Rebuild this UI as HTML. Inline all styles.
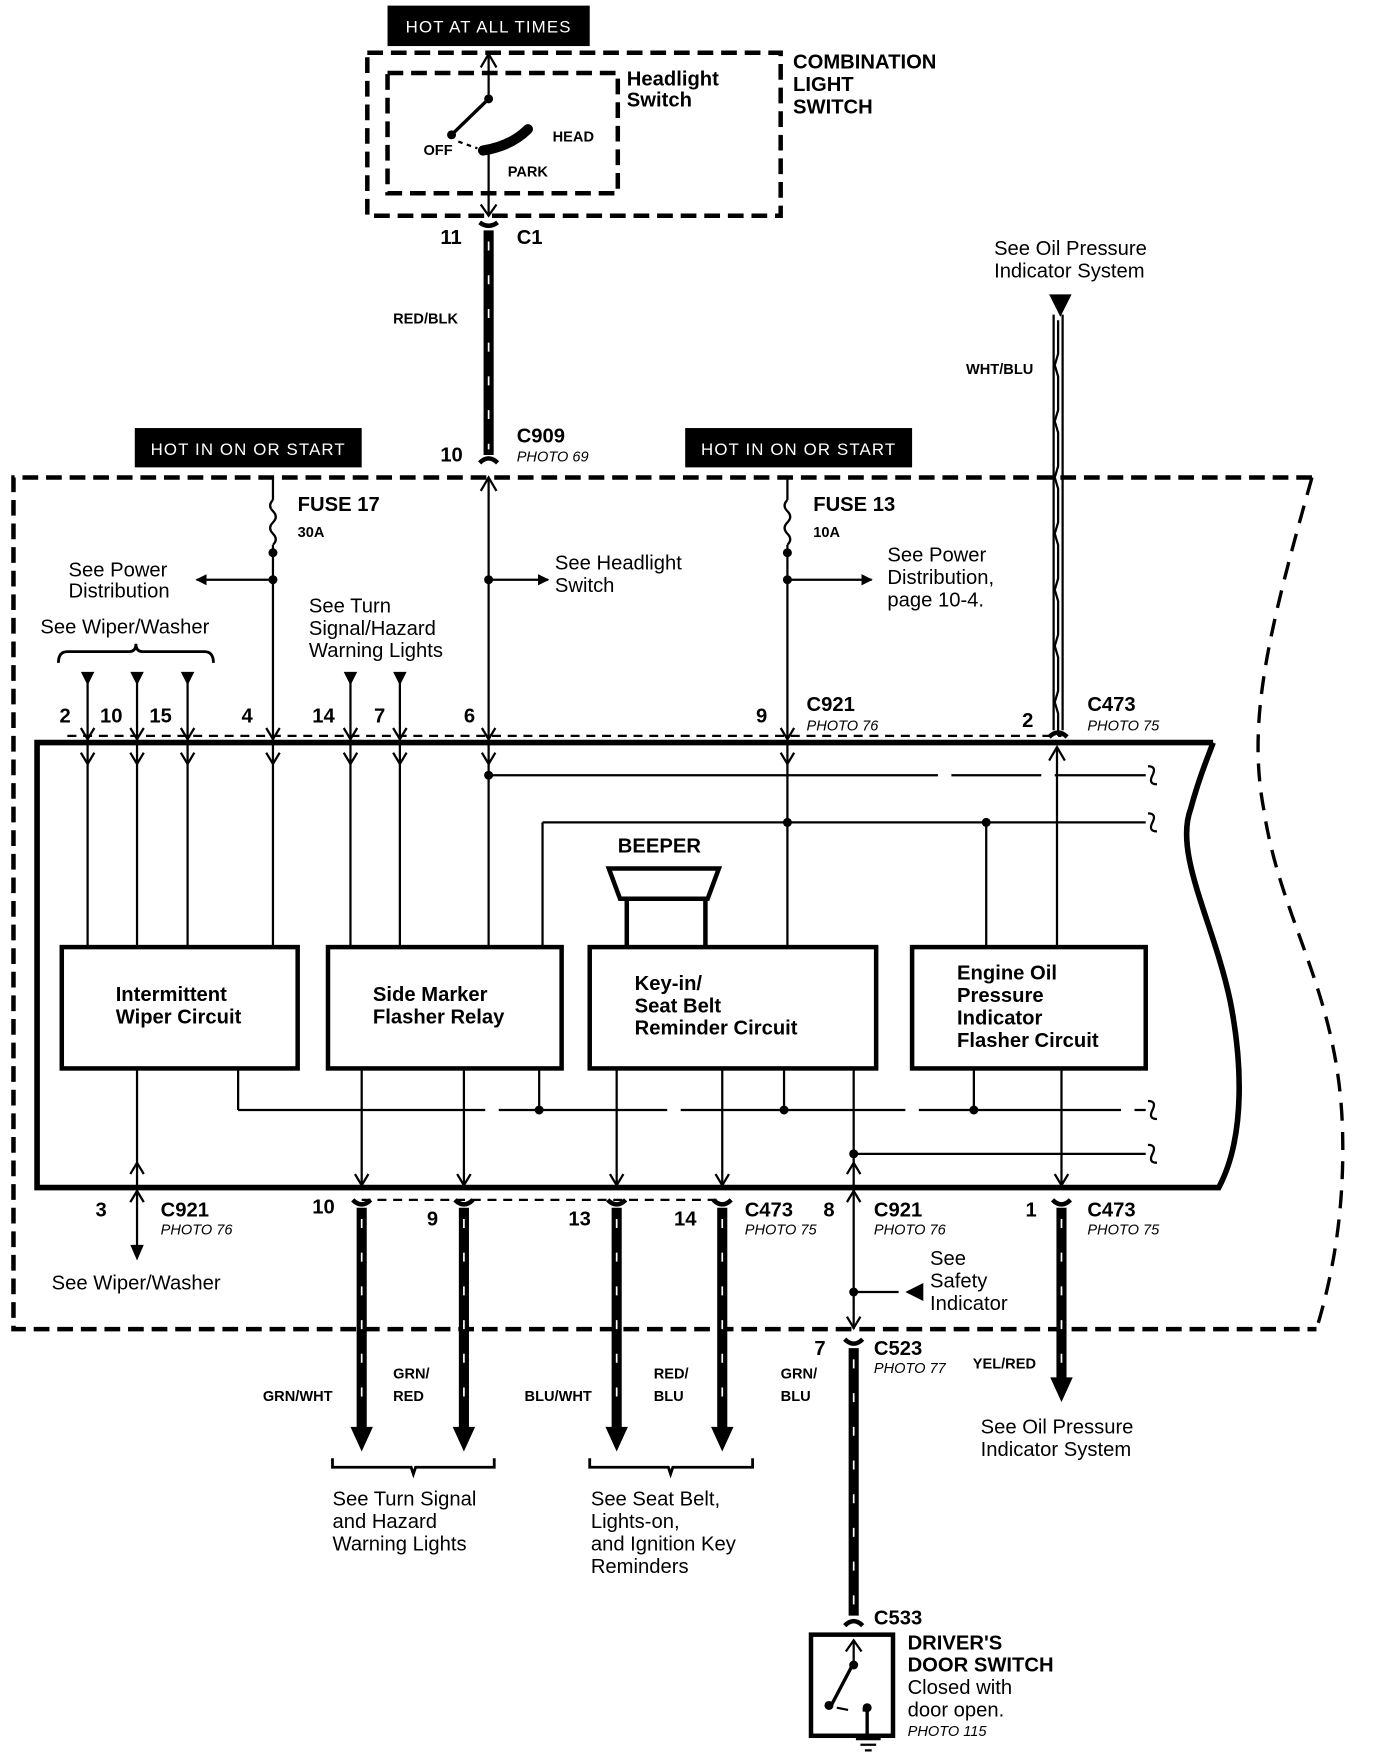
<!DOCTYPE html>
<html><head><style>
html,body{margin:0;padding:0;background:#fff}
svg{display:block}
text{font-family:"Liberation Sans",Arial,sans-serif;fill:#000}
.b{font-weight:bold}
.r{font-size:18px}
.s{font-size:13px;font-weight:bold}
.p{font-size:13px;font-style:italic}
.h{font-size:15px;fill:#fff;letter-spacing:1px}
</style></head><body>
<svg width="1376" height="1756" viewBox="0 0 1225 1563" preserveAspectRatio="none" xmlns="http://www.w3.org/2000/svg">
<defs>
<marker id="ah" markerWidth="10" markerHeight="10" refX="9" refY="5" orient="auto" markerUnits="userSpaceOnUse"><path d="M0,0 L10,5 L0,10 Z" fill="#000"/></marker>
</defs>
<g fill="none" stroke="#000">
<!-- top switch -->
<rect x="327" y="47" width="368" height="145" stroke-width="4" stroke-dasharray="14,7"/>
<rect x="345" y="65" width="205" height="107" stroke-width="4" stroke-dasharray="14,7"/>
<line x1="435" y1="48" x2="435" y2="88" stroke-width="2"/>
<path d="M428,60 L435,48 L442,60" stroke-width="2"/>
<line x1="435" y1="88" x2="402" y2="120" stroke-width="3"/>
<path d="M408,126 L425,132" stroke-width="2" stroke-dasharray="4,4"/>
<path d="M430,134 Q455,130 470,115" stroke-width="9" stroke-linecap="round"/>
<line x1="435" y1="135" x2="435" y2="192" stroke-width="2"/>
<path d="M428,182 L435,192 L442,182" stroke-width="2"/>
<!-- RED/BLK wire -->
<line x1="435" y1="205" x2="435" y2="405" stroke-width="9"/>
<line x1="435" y1="215" x2="435" y2="400" stroke="#fff" stroke-width="1.5" stroke-dasharray="8,22"/>
<path d="M427,198 Q435,204 443,198" stroke-width="4"/>
<path d="M427,412 Q435,404 443,412" stroke-width="4"/>
<!-- big dashed boundary -->
<path d="M1168,425 L12,425 L12,1183 L1172,1183" stroke-width="4" stroke-dasharray="14,7"/>
<path d="M1168,425 C1130,560 1110,640 1125,720 C1140,820 1190,880 1195,1000 C1198,1080 1185,1140 1172,1183" stroke-width="3" stroke-dasharray="16,10"/>
<!-- module -->
<path d="M1080,661 L33,661 L33,1057 L1085,1057 C1110,1010 1105,940 1095,890 C1080,820 1045,760 1060,720 C1068,690 1075,675 1080,661" stroke-width="5"/>
<!-- fuse 17 -->
<line x1="243" y1="425" x2="243" y2="445" stroke-width="2"/>
<path d="M243,445 q-5,5 0,10 q5,5 0,10 q-5,5 0,10 q5,5 0,10" stroke-width="2"/>
<line x1="243" y1="485" x2="243" y2="661" stroke-width="2"/>
<line x1="243" y1="516" x2="175" y2="516" stroke-width="2" marker-end="url(#ah)"/>
<!-- headlight line -->
<line x1="435" y1="425" x2="435" y2="661" stroke-width="2"/>
<path d="M428,437 L435,425 L442,437" stroke-width="2"/>
<line x1="435" y1="516" x2="488" y2="516" stroke-width="2" marker-end="url(#ah)"/>
<!-- fuse 13 -->
<line x1="701" y1="425" x2="701" y2="445" stroke-width="2"/>
<path d="M701,445 q-5,5 0,10 q5,5 0,10 q-5,5 0,10 q5,5 0,10" stroke-width="2"/>
<line x1="701" y1="485" x2="701" y2="661" stroke-width="2"/>
<line x1="701" y1="516" x2="776" y2="516" stroke-width="2" marker-end="url(#ah)"/>
<!-- WHT/BLU -->
<line x1="938" y1="280" x2="938" y2="650" stroke-width="2"/>
<line x1="946" y1="280" x2="946" y2="650" stroke-width="2"/>
<path d="M942,285 l0,30 l-3,10 l3,10 l0,30 l-3,10 l3,10 l0,30 l-3,10 l3,10 l0,30 l-3,10 l3,10 l0,30 l-3,10 l3,10 l0,30 l-3,10 l3,10 l0,30 l-3,10 l3,10 l0,20" stroke-width="2"/>
<path d="M934,656 Q942,648 950,656" stroke-width="4"/>
<!-- wiper bracket -->
<path d="M52,590 Q52,580 60,580 L115,580 Q121,580 121,573 Q121,580 127,580 L182,580 Q190,580 190,590" stroke-width="2.5"/>
<!-- top connector dashed line -->
<path d="M60,655 L945,655" stroke-width="2" stroke-dasharray="8,6"/>
<!-- pin lines top -->
<g stroke-width="2">
<line x1="78" y1="608" x2="78" y2="843"/><line x1="122" y1="608" x2="122" y2="843"/><line x1="167" y1="608" x2="167" y2="843"/>
<line x1="312" y1="608" x2="312" y2="843"/><line x1="356" y1="608" x2="356" y2="843"/>
<line x1="243" y1="661" x2="243" y2="843"/><line x1="435" y1="661" x2="435" y2="843"/>
<line x1="701" y1="661" x2="701" y2="732"/>
<line x1="941" y1="665" x2="941" y2="843"/>
<path d="M934,677 L941,665 L948,677"/>
<path d="M72,670 L78,680 L84,670 M116,670 L122,680 L128,670 M161,670 L167,680 L173,670 M237,670 L243,680 L249,670 M306,670 L312,680 L318,670 M350,670 L356,680 L362,670 M429,670 L435,680 L441,670 M695,670 L701,680 L707,670"/>
<path d="M72,648 L78,658 L84,648 M116,648 L122,658 L128,648 M161,648 L167,658 L173,648 M237,648 L243,658 L249,648 M306,648 L312,658 L318,648 M350,648 L356,658 L362,648 M429,648 L435,658 L441,648 M695,648 L701,658 L707,648"/>
<line x1="435" y1="690" x2="1020" y2="690" stroke-dasharray="400,12,80,12"/>
<line x1="483" y1="732" x2="1020" y2="732"/>
<line x1="483" y1="732" x2="483" y2="843"/>
<line x1="701" y1="732" x2="701" y2="843"/>
<line x1="878" y1="732" x2="878" y2="843"/>
<path d="M1022,682 q8,0 4,8 q-4,8 4,8 M1022,724 q8,0 4,8 q-4,8 4,8 M1022,980 q8,0 4,8 q-4,8 4,8 M1022,1019 q8,0 4,8 q-4,8 4,8"/>
<!-- bottom internal -->
<line x1="212" y1="951" x2="212" y2="988"/>
<line x1="212" y1="988" x2="1020" y2="988" stroke-dasharray="220,12,150,12,200,12,180,12"/>
<line x1="480" y1="951" x2="480" y2="988"/><line x1="698" y1="951" x2="698" y2="988"/><line x1="867" y1="951" x2="867" y2="988"/>
<line x1="760" y1="951" x2="760" y2="1183"/>
<line x1="760" y1="1027" x2="1020" y2="1027"/>
<line x1="122" y1="951" x2="122" y2="1110"/>
<path d="M116,1045 L122,1035 L128,1045 M116,1070 L122,1060 L128,1070"/>
<path d="M754,1045 L760,1035 L766,1045 M754,1070 L760,1060 L766,1070"/>
<line x1="322" y1="951" x2="322" y2="1057"/><line x1="413" y1="951" x2="413" y2="1057"/>
<line x1="549" y1="951" x2="549" y2="1057"/><line x1="643" y1="951" x2="643" y2="1057"/>
<line x1="945" y1="951" x2="945" y2="1057"/>
<path d="M316,1045 L322,1055 L328,1045 M407,1045 L413,1055 L419,1045 M543,1045 L549,1055 L555,1045 M637,1045 L643,1055 L649,1045 M939,1045 L945,1055 L951,1045"/>
<line x1="760" y1="1150" x2="800" y2="1150"/>
<path d="M754,1172 L760,1182 L766,1172"/>
</g>
<!-- wiper arrow -->
<path d="M116,1108 L128,1108 L122,1122 Z" fill="#000" stroke="none"/>
<path d="M822,1142 L822,1158 L806,1150 Z" fill="#000" stroke="none"/>
<!-- boxes -->
<g stroke-width="4">
<rect x="55" y="843" width="210" height="108"/>
<rect x="292" y="843" width="208" height="108"/>
<rect x="525" y="843" width="255" height="108"/>
<rect x="812" y="843" width="208" height="108"/>
<path d="M542,773 L640,773 L630,800 L552,800 Z"/>
<path d="M558,800 L558,843 M628,800 L628,843"/>
</g>
<!-- bottom wires -->
<path d="M322,1068 L643,1068" stroke-width="2" stroke-dasharray="8,6"/>
<g stroke-width="9">
<line x1="322" y1="1075" x2="322" y2="1272"/><line x1="413" y1="1075" x2="413" y2="1272"/>
<line x1="549" y1="1075" x2="549" y2="1272"/><line x1="643" y1="1075" x2="643" y2="1272"/>
<line x1="945" y1="1075" x2="945" y2="1228"/>
<line x1="760" y1="1200" x2="760" y2="1438"/>
</g>
<g stroke="#fff" stroke-width="1.5" stroke-dasharray="8,22">
<line x1="322" y1="1085" x2="322" y2="1265"/><line x1="413" y1="1085" x2="413" y2="1265"/>
<line x1="549" y1="1085" x2="549" y2="1265"/><line x1="643" y1="1085" x2="643" y2="1265"/>
<line x1="945" y1="1085" x2="945" y2="1225"/><line x1="760" y1="1210" x2="760" y2="1430"/>
</g>
<g stroke-width="4">
<path d="M314,1068 Q322,1076 330,1068 M405,1068 Q413,1076 421,1068 M541,1068 Q549,1076 557,1068 M635,1068 Q643,1076 651,1068 M937,1068 Q945,1076 953,1068 M752,1192 Q760,1200 768,1192 M752,1447 Q760,1439 768,1447"/>
</g>
<g fill="#000" stroke="none">
<path d="M312,1270 L332,1270 L322,1292 Z"/><path d="M403,1270 L423,1270 L413,1292 Z"/>
<path d="M539,1270 L559,1270 L549,1292 Z"/><path d="M633,1270 L653,1270 L643,1292 Z"/>
<path d="M935,1226 L955,1226 L945,1248 Z"/>
<path d="M934,262 L954,262 L944,282 Z"/>
<path d="M72,598 L84,598 L78,610 Z"/><path d="M116,598 L128,598 L122,610 Z"/><path d="M161,598 L173,598 L167,610 Z"/>
<path d="M306,598 L318,598 L312,610 Z"/><path d="M350,598 L362,598 L356,610 Z"/>
<circle cx="243" cy="492" r="4"/><circle cx="243" cy="516" r="4"/><circle cx="435" cy="516" r="4"/>
<circle cx="701" cy="492" r="4"/><circle cx="701" cy="516" r="4"/>
<circle cx="435" cy="690" r="4"/><circle cx="701" cy="732" r="4"/><circle cx="878" cy="732" r="4"/>
<circle cx="480" cy="988" r="4"/><circle cx="698" cy="988" r="4"/><circle cx="867" cy="988" r="4"/>
<circle cx="760" cy="1027" r="4"/><circle cx="760" cy="1150" r="4"/>
<circle cx="435" cy="88" r="4"/><circle cx="402" cy="120" r="4"/>
</g>
<!-- bottom brackets -->
<path d="M296,1298 L296,1306 L366,1306 L368,1312 L370,1306 L440,1306 L440,1298" stroke-width="2.5"/>
<path d="M525,1298 L525,1306 L595,1306 L597,1312 L599,1306 L670,1306 L670,1298" stroke-width="2.5"/>
<!-- door switch -->
<rect x="722" y="1455" width="73" height="90" stroke-width="4"/>
<line x1="760" y1="1460" x2="760" y2="1480" stroke-width="2"/>
<path d="M753,1470 L760,1460 L767,1470" stroke-width="2"/>
<line x1="760" y1="1480" x2="740" y2="1518" stroke-width="3"/>
<path d="M745,1520 L755,1522" stroke-width="2"/>
<path d="M768,1522 L772,1522 L772,1545" stroke-width="3"/>
<path d="M762,1548 L784,1548 M766,1553 L780,1553 M770,1558 L776,1558" stroke-width="2"/>
</g>
<g fill="#000"><circle cx="760" cy="1482" r="4"/><circle cx="738" cy="1518" r="4"/><circle cx="772" cy="1520" r="4"/></g>
<!-- labels boxes -->
<rect x="345" y="5" width="180" height="36" fill="#000"/>
<text x="435" y="29" text-anchor="middle" class="h">HOT AT ALL TIMES</text>
<rect x="120" y="381" width="202" height="35" fill="#000"/>
<text x="221" y="405" text-anchor="middle" class="h">HOT IN ON OR START</text>
<rect x="610" y="381" width="202" height="35" fill="#000"/>
<text x="711" y="405" text-anchor="middle" class="h">HOT IN ON OR START</text>
<g class="b r">
<text x="706" y="61">COMBINATION</text><text x="706" y="81">LIGHT</text><text x="706" y="101">SWITCH</text>
<text x="558" y="76">Headlight</text><text x="558" y="95">Switch</text>
<text x="460" y="217">C1</text><text x="392" y="217">11</text>
<text x="460" y="394">C909</text><text x="392" y="411">10</text>
<text x="265" y="455">FUSE 17</text><text x="724" y="455">FUSE 13</text>
<text x="550" y="759">BEEPER</text>
<text x="718" y="633">C921</text><text x="968" y="633">C473</text>
<text x="143" y="1083">C921</text><text x="663" y="1083">C473</text><text x="778" y="1083">C921</text><text x="968" y="1083">C473</text>
<text x="778" y="1206">C523</text><text x="778" y="1446">C533</text>
<text x="808" y="1468">DRIVER'S</text><text x="808" y="1488">DOOR SWITCH</text>
<text x="103" y="891">Intermittent</text><text x="103" y="911">Wiper Circuit</text>
<text x="332" y="891">Side Marker</text><text x="332" y="911">Flasher Relay</text>
<text x="565" y="881">Key-in/</text><text x="565" y="901">Seat Belt</text><text x="565" y="921">Reminder Circuit</text>
<text x="852" y="872">Engine Oil</text><text x="852" y="892">Pressure</text><text x="852" y="912">Indicator</text><text x="852" y="932">Flasher Circuit</text>
<text x="53" y="643">2</text><text x="89" y="643">10</text><text x="133" y="643">15</text><text x="215" y="643">4</text><text x="278" y="643">14</text><text x="333" y="643">7</text><text x="413" y="643">6</text><text x="673" y="643">9</text><text x="910" y="647">2</text>
<text x="85" y="1083">3</text><text x="278" y="1080">10</text><text x="380" y="1091">9</text><text x="506" y="1091">13</text><text x="600" y="1091">14</text><text x="733" y="1083">8</text><text x="913" y="1083">1</text><text x="725" y="1206">7</text>
</g>
<g class="s">
<text x="377" y="138">OFF</text><text x="492" y="126">HEAD</text><text x="452" y="157">PARK</text>
<text x="350" y="288">RED/BLK</text><text x="860" y="333">WHT/BLU</text>
<text x="265" y="478">30A</text><text x="724" y="478">10A</text>
<text x="234" y="1247">GRN/WHT</text><text x="350" y="1227">GRN/</text><text x="350" y="1247">RED</text>
<text x="467" y="1247">BLU/WHT</text><text x="582" y="1227">RED/</text><text x="582" y="1247">BLU</text>
<text x="695" y="1227">GRN/</text><text x="695" y="1247">BLU</text><text x="866" y="1218">YEL/RED</text>
</g>
<g class="p">
<text x="460" y="411">PHOTO 69</text><text x="718" y="650">PHOTO 76</text><text x="968" y="650">PHOTO 75</text>
<text x="143" y="1099">PHOTO 76</text><text x="663" y="1099">PHOTO 75</text><text x="778" y="1099">PHOTO 76</text><text x="968" y="1099">PHOTO 75</text>
<text x="778" y="1222">PHOTO 77</text><text x="808" y="1545">PHOTO 115</text>
</g>
<g class="r">
<text x="885" y="227">See Oil Pressure</text><text x="885" y="247">Indicator System</text>
<text x="61" y="513">See Power</text><text x="61" y="532">Distribution</text>
<text x="494" y="507">See Headlight</text><text x="494" y="527">Switch</text>
<text x="790" y="500">See Power</text><text x="790" y="520">Distribution,</text><text x="790" y="540">page 10-4.</text>
<text x="36" y="564">See Wiper/Washer</text>
<text x="275" y="545">See Turn</text><text x="275" y="565">Signal/Hazard</text><text x="275" y="585">Warning Lights</text>
<text x="46" y="1148">See  Wiper/Washer</text>
<text x="828" y="1126">See</text><text x="828" y="1146">Safety</text><text x="828" y="1166">Indicator</text>
<text x="873" y="1276">See Oil Pressure</text><text x="873" y="1296">Indicator System</text>
<text x="296" y="1340">See Turn Signal</text><text x="296" y="1360">and Hazard</text><text x="296" y="1380">Warning Lights</text>
<text x="526" y="1340">See Seat Belt,</text><text x="526" y="1360">Lights-on,</text><text x="526" y="1380">and Ignition Key</text><text x="526" y="1400">Reminders</text>
<text x="808" y="1508">Closed with</text><text x="808" y="1528">door open.</text>
</g>
</svg>
</body></html>
